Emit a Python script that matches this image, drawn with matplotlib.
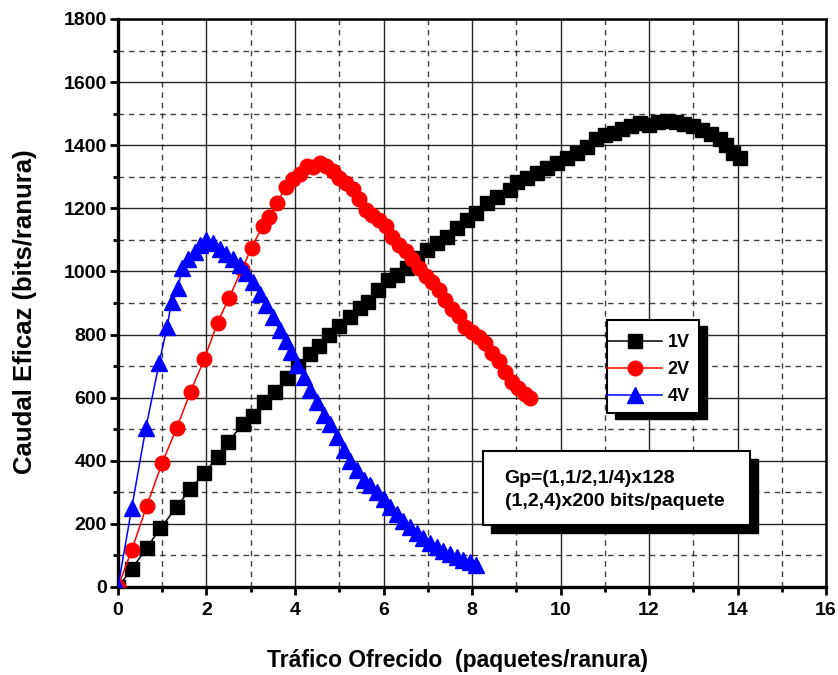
import matplotlib
matplotlib.use("Agg")
import matplotlib.pyplot as plt
from matplotlib.patches import Rectangle
from matplotlib.ticker import MultipleLocator

plt.rcParams['font.family'] = ['Liberation Sans', 'DejaVu Sans']
plt.rcParams['font.weight'] = 'bold'

# 1V series (black squares)
x_1v = [0, 0.31, 0.65, 0.96, 1.33, 1.63, 1.95, 2.25, 2.49, 2.82,
        3.04, 3.31, 3.55, 3.81, 4.06, 4.34, 4.55, 4.77, 5.0, 5.24,
        5.47, 5.66, 5.88, 6.11, 6.3, 6.52, 6.75, 6.98, 7.2, 7.43,
        7.65, 7.88, 8.1, 8.33, 8.56, 8.86, 9.01, 9.24, 9.46, 9.69,
        9.91, 10.14, 10.37, 10.6, 10.8, 11.0, 11.2, 11.4, 11.6, 11.8,
        12.0, 12.2, 12.4, 12.6, 12.8, 13.0, 13.2, 13.4, 13.6, 13.75,
        13.9, 14.05]
y_1v = [0, 56, 125, 186, 254, 310, 360, 413, 460, 516,
        542, 587, 619, 663, 700, 738, 765, 798, 828, 856,
        883, 904, 941, 973, 989, 1010, 1041, 1068, 1089, 1110,
        1137, 1163, 1184, 1216, 1237, 1258, 1284, 1295, 1311, 1327,
        1342, 1358, 1374, 1395, 1420, 1432, 1440, 1450, 1460, 1469,
        1464, 1472, 1478, 1474, 1467, 1460, 1448, 1437, 1421, 1400,
        1374, 1358]

# 2V series (red circles)
x_2v = [0, 0.31, 0.65, 1.0, 1.33, 1.64, 1.95, 2.25, 2.51, 2.8,
        3.02, 3.27, 3.42, 3.59, 3.8, 3.96, 4.11, 4.26, 4.41, 4.56,
        4.7, 4.85, 5.0, 5.15, 5.3, 5.45, 5.6, 5.75, 5.9, 6.05,
        6.2, 6.35, 6.5, 6.65, 6.8, 6.95, 7.1, 7.25, 7.4, 7.55,
        7.7, 7.85, 8.0, 8.15, 8.3, 8.45, 8.6, 8.75, 8.9, 9.05,
        9.2, 9.3]
y_2v = [0, 117, 257, 394, 505, 619, 722, 838, 916, 1007,
        1075, 1145, 1173, 1216, 1268, 1292, 1308, 1335, 1330, 1345,
        1335, 1318, 1295, 1280, 1262, 1228, 1195, 1178, 1162, 1145,
        1110, 1085, 1065, 1040, 1012, 985, 965, 940, 910, 880,
        860, 825, 808, 792, 772, 740, 715, 680, 650, 632,
        613, 598]

# 4V series (blue triangles)
x_4v = [0, 0.31, 0.63, 0.93, 1.11, 1.21, 1.36, 1.44, 1.59, 1.74,
        1.85, 2.0, 2.15, 2.3, 2.45, 2.6, 2.75, 2.9, 3.05, 3.2,
        3.35, 3.5, 3.65, 3.8, 3.92, 4.05, 4.2, 4.35, 4.5, 4.65,
        4.8, 4.95, 5.1, 5.25, 5.4, 5.55, 5.7, 5.85, 6.0, 6.15,
        6.3, 6.45, 6.6, 6.75, 6.9, 7.05, 7.2, 7.35, 7.5, 7.65,
        7.8, 7.95, 8.1]
y_4v = [0, 250, 504, 709, 825, 904, 946, 1011, 1040, 1062,
        1085, 1100, 1090, 1070, 1055, 1040, 1020, 995, 965, 930,
        895, 855, 815, 780, 745, 705, 665, 625, 585, 545,
        515, 475, 435, 400, 370, 340, 322, 300, 278, 255,
        232, 210, 190, 172, 155, 140, 127, 115, 104, 94,
        86, 78, 70]

x_ticks = list(range(0, 17, 2))
y_ticks = list(range(0, 1801, 200))
note = "Gp=(1,1/2,1/4)x128\n(1,2,4)x200 bits/paquete"

fig = plt.figure(figsize=(8.38, 6.75), dpi=100)
ax = fig.add_axes([0.1408, 0.1304, 0.8449, 0.8415])

ax.plot(x_1v, y_1v, color='black', marker='s', ms=10, lw=1.1, label='1V', zorder=3)
ax.plot(x_2v, y_2v, color='red', marker='o', ms=10.5, lw=1.1, label='2V', zorder=3)
ax.plot(x_4v, y_4v, color='blue', marker='^', ms=11, lw=1.1, label='4V', zorder=3)

ax.set_xlim(0, 16)
ax.set_ylim(0, 1800)
ax.set_xticks(x_ticks)
ax.set_yticks(y_ticks)
ax.xaxis.set_minor_locator(MultipleLocator(1))
ax.yaxis.set_minor_locator(MultipleLocator(100))

ax.grid(which='major', color='black', lw=1.0, ls='-', alpha=0.85)
ax.grid(which='minor', color='black', lw=1.0, ls=(0, (4, 3.5)), alpha=0.75)
ax.set_axisbelow(True)

ax.tick_params(which='major', direction='out', length=6, width=2, labelsize=14, pad=2)
ax.tick_params(which='minor', direction='out', length=3.5, width=2)
ax.tick_params(axis='x', which='major', pad=5)
for lbl in ax.get_xticklabels() + ax.get_yticklabels():
    lbl.set_fontweight('bold')

ax.spines['left'].set_linewidth(2.4)
ax.spines['bottom'].set_linewidth(2.4)
ax.spines['top'].set_linewidth(1.8)
ax.spines['right'].set_linewidth(1.8)

ax.set_xlabel('Tráfico Ofrecido  (paquetes/ranura)', fontsize=16.5, fontweight='bold')
ax.set_ylabel('Caudal Eficaz (bits/ranura)', fontsize=18.5, fontweight='bold')
ax.xaxis.set_label_coords(0.48, -0.11)
ax.yaxis.set_label_coords(-0.115, 0.485)

# legend frame with shadow
ax.add_patch(Rectangle((11.24, 532), 2.08, 294, facecolor='black', edgecolor='black', zorder=5))
ax.add_patch(Rectangle((11.05, 551), 2.08, 295, facecolor='white', edgecolor='black', lw=1.5, zorder=5.5))
leg = ax.legend(loc='center left', bbox_to_anchor=(11.05, 688), bbox_transform=ax.transData,
                frameon=False, borderaxespad=0, borderpad=0,
                prop={'weight': 'bold', 'size': 13}, handlelength=3.05,
                labelspacing=0.55, handletextpad=0.3)
leg.set_zorder(6)

# note box with shadow
ax.add_patch(Rectangle((8.43, 171), 6.03, 235, facecolor='black', edgecolor='black', zorder=5))
ax.add_patch(Rectangle((8.25, 196), 6.03, 235, facecolor='white', edgecolor='black', lw=1.5, zorder=5.5))
ax.text(8.74, 308, note, fontsize=14, fontweight='bold', va='center', ha='left',
        linespacing=1.45, zorder=6)

fig.savefig('out.png', dpi=100)
